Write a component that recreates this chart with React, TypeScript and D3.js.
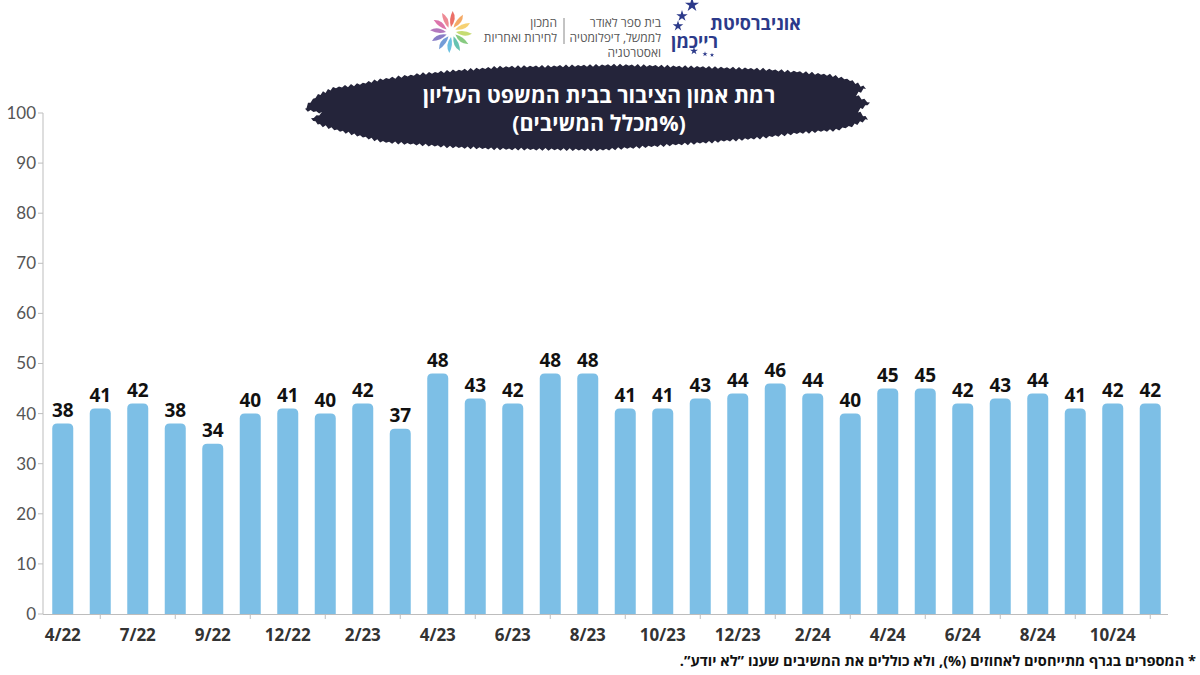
import * as d3 from 'd3';
import React from 'react';

const months: string[] = [
  '4/22', '5/22', '7/22', '8/22', '9/22', '11/22', '12/22', '1/23', '2/23', '3/23',
  '4/23', '5/23', '6/23', '7/23', '8/23', '9/23', '10/23', '11/23', '12/23', '1/24',
  '2/24', '3/24', '4/24', '5/24', '6/24', '7/24', '8/24', '9/24', '10/24', '11/24',
];
const trust: number[] = [
  38, 41, 42, 38, 34, 40, 41, 40, 42, 37,
  48, 43, 42, 48, 48, 41, 41, 43, 44, 46,
  44, 40, 45, 45, 42, 43, 44, 41, 42, 42,
];
const yTicks: number[] = [0, 10, 20, 30, 40, 50, 60, 70, 80, 90, 100];

const title1 = 'רמת אמון הציבור בבית המשפט העליון';
const title2 = '(%מכלל המשיבים)';
const footnote = '* המספרים בגרף מתייחסים לאחוזים (%), ולא כוללים את המשיבים שענו ”לא יודע”.';

const petalColors = ['#e8564c', '#f29a4a', '#f4c95a', '#bcd65a', '#72c16a', '#4bb8a4', '#52b6dc', '#5a8bd0', '#7467bc', '#a660b2', '#d65c9c', '#ea7582'];

const FONT = '"Open Sans", "DejaVu Sans", sans-serif';

const topRounded = (x: number, y: number, w: number, y0: number, r: number) =>
  `M${x},${y0} V${y + r} Q${x},${y} ${x + r},${y} H${x + w - r} Q${x + w},${y} ${x + w},${y + r} V${y0} Z`;

// outline of the brush stroke behind the title
const brushOutline: [number, number][] = [
  [308, 104], [318, 95], [333, 88], [360, 84], [383, 79], [420, 74], [450, 71], [500, 67],
  [560, 66], [620, 65], [700, 67], [760, 69], [800, 72], [830, 75], [850, 80], [866, 88],
  [856, 95], [870, 103], [858, 111], [868, 119], [852, 126], [836, 130], [800, 133],
  [760, 138], [700, 143], [600, 150], [500, 149], [450, 147], [383, 142], [340, 131],
  [320, 125], [311, 119], [322, 113], [305, 110],
];

const brushPath = () => {
  const pts: [number, number][] = [];
  let c = 0;
  brushOutline.forEach((p, i) => {
    const q = brushOutline[(i + 1) % brushOutline.length];
    const n = Math.max(1, Math.round(Math.hypot(q[0] - p[0], q[1] - p[1]) / 3));
    for (let k = 0; k < n; k++) {
      const t = k / n;
      const px = p[0] + (q[0] - p[0]) * t;
      const py = p[1] + (q[1] - p[1]) * t;
      const j = (c++ % 2 ? 1 : -1) * (0.5 + 0.9 * Math.abs(Math.sin(px * 0.13)));
      pts.push([px, py + j]);
    }
  });
  return d3.line().curve(d3.curveLinearClosed)(pts) || '';
};

export default function App() {
  const x0 = 44, x1 = 1169, yTop = 113, yBot = 614;

  const x = d3.scaleBand<number>()
    .domain(d3.range(trust.length))
    .range([x0, x1])
    .paddingInner(0.44)
    .paddingOuter(0.22);

  const y = d3.scaleLinear().domain([0, 100]).range([yBot, yTop]);

  const petal = (a: number) => {
    const cx = 451, cy = 32;
    const rad = (a * Math.PI) / 180;
    const p = (r: number, off: number) => {
      const ang = rad + off;
      return [cx + r * Math.cos(ang), cy + r * Math.sin(ang)];
    };
    const [ax, ay] = p(5, 0);
    const [bx, by] = p(15, 0.45);
    const [cx2, cy2] = p(21, 0.08);
    const [dx, dy] = p(13, -0.2);
    return `M${ax},${ay} Q${bx},${by} ${cx2},${cy2} Q${dx},${dy} ${ax},${ay} Z`;
  };

  return (
    <svg width={1200} height={675} style={{position: 'absolute', left: 0, top: 0, background: '#fff'}}>
      <rect width={1200} height={675} fill='#fff'/>

      {/* header logos */}
      <g>
        {petalColors.map((c, i) => (
          <path key={i} d={petal(i * 30 - 90)} fill={c} opacity={0.85}/>
        ))}
        <g fontFamily={FONT} fontSize={12} fill='#555' direction='rtl' textAnchor='start'>
          <text x={557} y={27}>המכון</text>
          <text x={557} y={42}>לחירות ואחריות</text>
          <text x={661} y={27}>בית ספר לאודר</text>
          <text x={661} y={42}>לממשל, דיפלומטיה</text>
          <text x={661} y={57}>ואסטרטגיה</text>
        </g>
        <line x1={564} x2={564} y1={18} y2={44} stroke='#888' strokeWidth={1}/>
        <g fontFamily={FONT} fontWeight={700} fontSize={18} fill='#2c3a8a' direction='rtl' textAnchor='start'>
          <text x={801} y={30}>אוניברסיטת</text>
          <text x={718} y={48}>רייכמן</text>
        </g>
        {[[692, 5, 3.2], [682, 16, 2.6], [678, 26, 2.4], [694, 51, 1.8], [705, 54, 1.2], [712, 55, 1]].map(([sx, sy, r], i) => {
          const star = d3.symbol().type(d3.symbolStar).size(r * r * 6)();
          return <path key={i} d={star || ''} transform={`translate(${sx},${sy})`} fill='#2c3a8a'/>;
        })}
      </g>

      {/* title */}
      <path d={brushPath()} fill='#24243a'/>
      <g fontFamily={FONT} fontWeight={700} fontSize={21.5} fill='#fff' textAnchor='middle' direction='rtl'>
        <text x={599} y={103}>{title1}</text>
        <text x={599} y={131}>{title2}</text>
      </g>

      {/* y axis */}
      <line x1={43} x2={43} y1={yTop} y2={yBot} stroke='#bdbdbd'/>
      {yTicks.map(t => (
        <g key={t} transform={`translate(0,${y(t)})`}>
          <line x1={38} x2={43} stroke='#bdbdbd'/>
          <text x={36} dy='0.35em' textAnchor='end' fontFamily='Lato, sans-serif' fontSize={17} fill='#555'>{t}</text>
        </g>
      ))}

      {/* bars */}
      {trust.map((v, i) => {
        const bx = x(i) as number;
        return (
          <g key={i}>
            <path d={topRounded(bx, y(v), x.bandwidth(), yBot, 5)} fill='#7dbfe6'/>
            <text x={bx + x.bandwidth() / 2} y={y(v) - 7} textAnchor='middle'
              fontFamily={FONT} fontWeight={700} fontSize={19} fill='#111'>{v}</text>
          </g>
        );
      })}

      {/* x axis */}
      <line x1={43} x2={1168} y1={yBot + 0.5} y2={yBot + 0.5} stroke='#bdbdbd'/>
      {months.map((m, i) => {
        const cx = (x(i) as number) + x.bandwidth() / 2;
        return i % 2 === 1
          ? <line key={i} x1={cx} x2={cx} y1={yBot} y2={yBot + 5} stroke='#bdbdbd'/>
          : <text key={i} x={cx} y={yBot + 27} textAnchor='middle' fontFamily={FONT}
              fontWeight={700} fontSize={17} fill='#333'>{m}</text>;
      })}

      {/* footnote */}
      <text x={1196} y={666} direction='rtl' textAnchor='start' fontFamily={FONT}
        fontWeight={700} fontSize={14.6} fill='#111'>{footnote}</text>
    </svg>
  );
}
